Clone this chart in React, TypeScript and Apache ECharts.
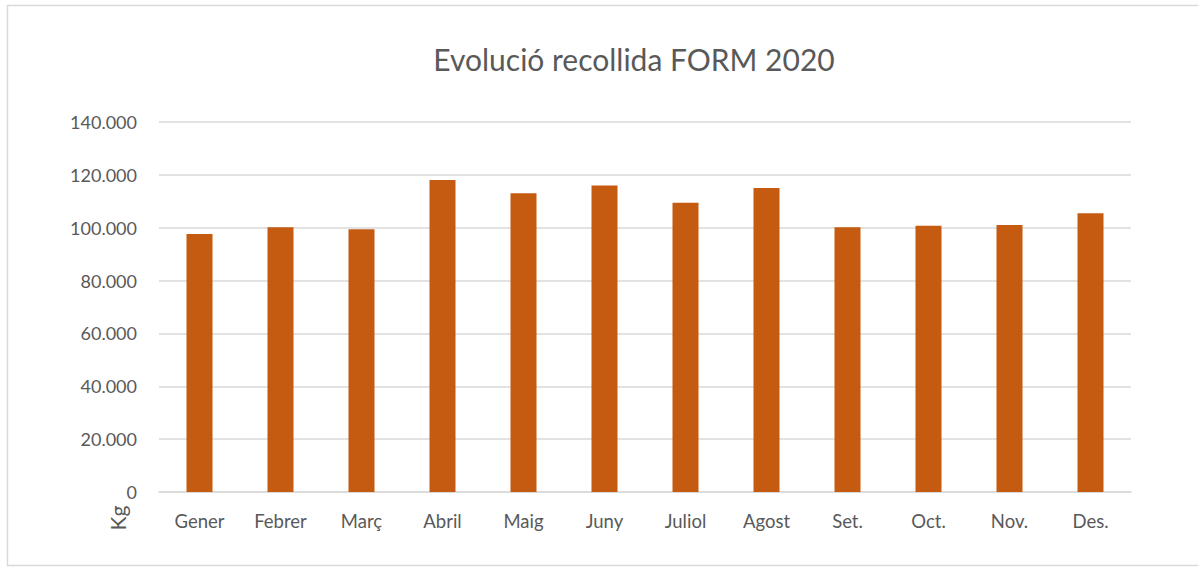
import React, { useEffect, useRef } from "react";
import * as echarts from "echarts";

const categories = ["Gener", "Febrer", "Març", "Abril", "Maig", "Juny", "Juliol", "Agost", "Set.", "Oct.", "Nov.", "Des."];
const values = [97600, 100200, 99400, 118100, 113000, 116000, 109400, 115000, 100200, 100700, 101000, 105500];
const titleText = "Evolució recollida FORM 2020";
const yAxisName = "Kg";

const FONT = "Lato, 'Open Sans', sans-serif";
const GREY = "#595959";

function fmt(v: number): string {
  return String(Math.round(v)).replace(/\B(?=(\d{3})+(?!\d))/g, ".");
}

export default function App() {
  const ref = useRef<HTMLDivElement>(null);
  useEffect(() => {
    if (!ref.current) return;
    const chart = echarts.init(ref.current, null, { renderer: "svg" });
    chart.setOption({
      animation: false,
      backgroundColor: "#ffffff",
      graphic: [
        {
          type: "rect",
          shape: { x: 7.5, y: 5.5, width: 1200, height: 560 },
          style: { fill: "none", stroke: "#d9d9d9", lineWidth: 1.5 },
          silent: true,
        },
        {
          type: "text",
          x: 634,
          y: 59,
          style: {
            text: titleText,
            fontFamily: FONT,
            fontSize: 30,
            fill: GREY,
            textAlign: "center",
            textVerticalAlign: "middle",
          },
        },
        {
          type: "text",
          x: 117,
          y: 518,
          rotation: Math.PI / 2,
          style: {
            text: yAxisName,
            fontFamily: FONT,
            fontSize: 21,
            fill: GREY,
            textAlign: "center",
            textVerticalAlign: "middle",
          },
        },
      ],
      grid: { left: 159, right: 67, top: 122, bottom: 76, containLabel: false },
      xAxis: {
        type: "category",
        data: categories,
        axisLine: { show: true, lineStyle: { color: "#d9d9d9", width: 1.5 } },
        axisTick: { show: false },
        axisLabel: { color: GREY, fontFamily: FONT, fontSize: 18.5, margin: 19 },
      },
      yAxis: {
        type: "value",
        min: 0,
        max: 140000,
        interval: 20000,
        axisLine: { show: false },
        axisTick: { show: false },
        splitLine: { lineStyle: { color: "#d9d9d9", width: 1.5 } },
        axisLabel: { color: GREY, fontFamily: FONT, fontSize: 18, margin: 22, formatter: (v: number) => fmt(v) },
      },
      series: [
        {
          type: "bar",
          data: values,
          barWidth: 26,
          itemStyle: { color: "#c55a11" },
        },
      ],
    });
    return () => chart.dispose();
  }, []);
  return <div ref={ref} style={{ position: "fixed", left: 0, top: 0, width: 1198, height: 568 }} />;
}
